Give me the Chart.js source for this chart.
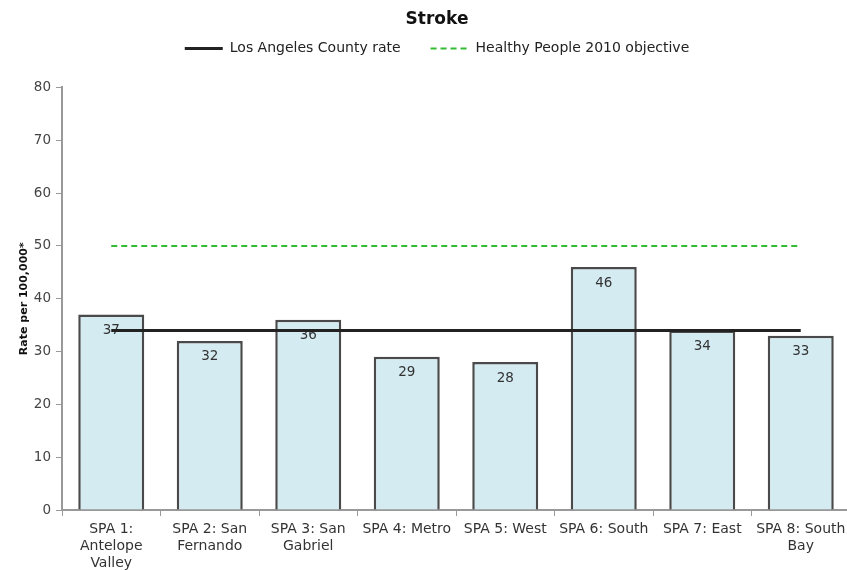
<!DOCTYPE html>
<html lang="en">
<head>
  <meta charset="UTF-8" />
  <title>Stroke</title>
  <script src="https://cdn.jsdelivr.net/npm/chart.js"></script>
  <style>
    body {
      margin: 0;
      background: #fff;
      overflow: hidden;
    }
    .wrap {
      width: 874px;
      height: 570px;
    }
  </style>
</head>
<body>
  <div class="wrap"><canvas id="strokeChart"></canvas></div>

  <script>
    const spaLabels = [
      ['SPA 1:', 'Antelope', 'Valley'],
      ['SPA 2: San', 'Fernando'],
      ['SPA 3: San', 'Gabriel'],
      'SPA 4: Metro',
      'SPA 5: West',
      'SPA 6: South',
      'SPA 7: East',
      ['SPA 8: South', 'Bay']
    ];
    const strokeRates = [37, 32, 36, 29, 28, 46, 34, 33];
    const countyRate = [34, 34, 34, 34, 34, 34, 34, 34];
    const hp2010 = [50, 50, 50, 50, 50, 50, 50, 50];

    const font = 'DejaVu Sans, Verdana, sans-serif';

    // value labels drawn right after the bars, so the lines sit on top
    const barValues = {
      id: 'barValues',
      afterDatasetDraw(chart, args) {
        if (args.index !== 2) return;
        const ctx = chart.ctx;
        ctx.save();
        ctx.font = '13.5px ' + font;
        ctx.fillStyle = '#333';
        ctx.textAlign = 'center';
        ctx.textBaseline = 'middle';
        args.meta.data.forEach((bar, i) => {
          ctx.fillText(strokeRates[i], bar.x, bar.y + 16);
        });
        ctx.restore();
      }
    };

    // extra room below the legend
    const legendGap = {
      id: 'legendGap',
      beforeInit(chart) {
        const fit = chart.legend.fit;
        chart.legend.fit = function () {
          fit.bind(chart.legend)();
          this.height += 22;
        };
      },
      // the original chart is cropped on the right, so its title/legend sit right of centre
      afterLayout(chart) {
        chart.titleBlock.right += 24;
        chart.legend.right += 24;
      }
    };

    new Chart(document.getElementById('strokeChart'), {
      type: 'bar',
      data: {
        labels: spaLabels,
        datasets: [
          {
            type: 'line',
            label: 'Los Angeles County rate',
            data: countyRate,
            borderColor: '#222',
            borderWidth: 3,
            pointRadius: 0,
            fill: false
          },
          {
            type: 'line',
            label: 'Healthy People 2010 objective',
            data: hp2010,
            borderColor: '#33bb33',
            borderWidth: 2,
            borderDash: [6, 4],
            pointRadius: 0,
            fill: false
          },
          {
            label: 'Stroke',
            data: strokeRates,
            backgroundColor: '#d4ebf2',
            borderColor: '#4a4a4a',
            borderWidth: 2.5,
            barPercentage: 0.67,
            categoryPercentage: 1
          }
        ]
      },
      options: {
        responsive: true,
        maintainAspectRatio: false,
        animation: false,
        layout: { padding: { left: 0, right: 24, top: 0, bottom: 0 } },
        plugins: {
          tooltip: { enabled: false },
          title: {
            display: true,
            text: 'Stroke',
            color: '#111',
            font: { family: font, size: 17, weight: 'bold' },
            padding: { top: 9, bottom: -18 }
          },
          legend: {
            display: true,
            labels: {
              filter: item => item.datasetIndex !== 2,
              boxWidth: 38,
              boxHeight: 0,
              color: '#222',
              padding: 30,
              font: { family: font, size: 14 }
            }
          }
        },
        scales: {
          x: {
            grid: {
              drawOnChartArea: false,
              tickLength: 6,
              color: '#999'
            },
            border: { color: '#999', width: 2 },
            ticks: {
              color: '#333',
              font: { family: font, size: 14 },
              maxRotation: 0,
              autoSkip: false,
              padding: 5
            },
            afterFit(scale) { scale.height = 60; }
          },
          y: {
            min: 0,
            max: 80,
            ticks: {
              stepSize: 10,
              color: '#444',
              font: { family: font, size: 13.5 },
              padding: 5
            },
            grid: {
              drawOnChartArea: false,
              tickLength: 6,
              color: '#999'
            },
            border: { color: '#999', width: 2 },
            title: {
              display: true,
              text: 'Rate per 100,000*',
              color: '#111',
              font: { family: font, size: 11, weight: 'bold' },
              padding: { top: 18, bottom: 0 }
            },
            afterFit(scale) { scale.width = 62; }
          }
        }
      },
      plugins: [barValues, legendGap]
    });
  </script>
</body>
</html>
